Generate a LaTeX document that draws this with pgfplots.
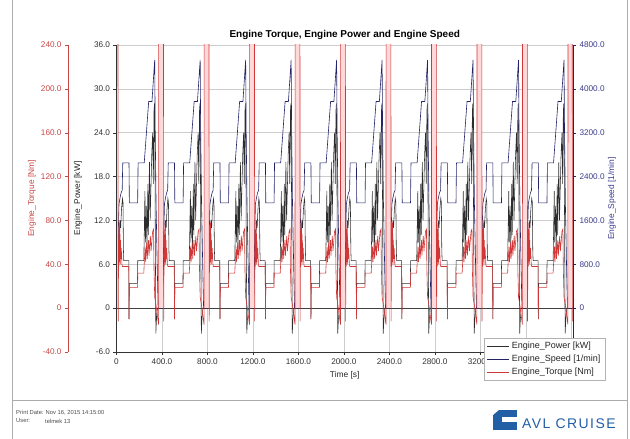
\documentclass[border=0pt]{standalone}
\usepackage{pgfplots}
\pgfplotsset{compat=1.18}
\usepackage{fontspec}
\setmainfont{Liberation Sans}
\definecolor{powc}{RGB}{45,45,45}
\definecolor{spdc}{RGB}{35,35,105}
\definecolor{spdlab}{RGB}{60,60,140}
\definecolor{trqc}{RGB}{210,55,55}
\definecolor{trqlab}{RGB}{200,70,70}
\definecolor{gridc}{RGB}{205,205,205}
\definecolor{avlblue}{RGB}{35,95,165}
\begin{document}
\begin{tikzpicture}
\useasboundingbox (0pt,0pt) rectangle (630pt,439pt);
\pgfplotsset{
  base/.style={
    at={(116.5pt,87pt)}, anchor=south west, scale only axis,
    width=456.5pt, height=307pt,
    xmin=0, xmax=4015,
    tick label style={font=\fontsize{8.2}{9}\selectfont},
    label style={font=\fontsize{8.4}{10}\selectfont},
    tick align=outside, major tick length=3pt,
  }
}
% ---------------- Power (main axis) ----------------
\begin{axis}[base,
  ymin=-6, ymax=36,
  axis x line*=bottom, axis y line*=left,
  xtick={0,400,...,4000},
  xticklabels={0,400.0,800.0,1200.0,1600.0,2000.0,2400.0,2800.0,3200.0,{},{}},
  ytick={-6,0,...,36},
  yticklabels={-6.0,0,6.0,12.0,18.0,24.0,30.0,36.0},
  grid=major, grid style={gridc, line width=0.5pt},
  extra y ticks={0}, extra y tick labels={},
  extra y tick style={grid style={black!75, line width=0.6pt}},
  axis line style={black!80, line width=0.6pt},
  tick style={black!80},
  tick label style={text=black!80},
  xlabel={Time [s]}, ylabel={Engine\_Power [kW]},
  xlabel style={text=black!85},
  ylabel style={text=black!85, at={(axis description cs:-0.0843,0.5)}, anchor=center},
  title={Engine Torque, Engine Power and Engine Speed},
  title style={font=\bfseries\fontsize{10}{12}\selectfont, at={(axis description cs:0.5,1)}, anchor=south, yshift=-4pt},
]
\addplot[powc, line width=0.55pt] coordinates {
(0,0) (5,0) (9,4) (13,7) (17,6) (21,10) (26,9) (31,12) (37,11) (44,13.5) (52,15) (57,14.5) (61,8) (64,6.5) (108,6.5) (110,-1.5) (113,3.4) (184,3.4) (187,6.5) (240,6.5) (244,10) (250,16) (254,9) (262,14) (268,8) (276,17) (280,10) (290,20) (296,12) (310,21) (318,24) (324,17) (330,27) (334,28) (338,20) (342,8) (346,-3.5) (352,-1.5) (360,0)
(405,0) (409,4) (413,7) (417,6) (421,10) (426,9) (431,12) (437,11) (444,13.5) (452,15) (457,14.5) (461,8) (464,6.5) (508,6.5) (510,-1.5) (513,3.4) (584,3.4) (587,6.5) (640,6.5) (644,10) (650,16) (654,9) (662,14) (668,8) (676,17) (680,10) (690,20) (696,12) (710,21) (718,24) (724,17) (730,27) (734,28) (738,20) (742,8) (746,-3.5) (752,-1.5) (760,0)
(805,0) (809,4) (813,7) (817,6) (821,10) (826,9) (831,12) (837,11) (844,13.5) (852,15) (857,14.5) (861,8) (864,6.5) (908,6.5) (910,-1.5) (913,3.4) (984,3.4) (987,6.5) (1040,6.5) (1044,10) (1050,16) (1054,9) (1062,14) (1068,8) (1076,17) (1080,10) (1090,20) (1096,12) (1110,21) (1118,24) (1124,17) (1130,27) (1134,28) (1138,20) (1142,8) (1146,-3.5) (1152,-1.5) (1160,0)
(1205,0) (1209,4) (1213,7) (1217,6) (1221,10) (1226,9) (1231,12) (1237,11) (1244,13.5) (1252,15) (1257,14.5) (1261,8) (1264,6.5) (1308,6.5) (1310,-1.5) (1313,3.4) (1384,3.4) (1387,6.5) (1440,6.5) (1444,10) (1450,16) (1454,9) (1462,14) (1468,8) (1476,17) (1480,10) (1490,20) (1496,12) (1510,21) (1518,24) (1524,17) (1530,27) (1534,28) (1538,20) (1542,8) (1546,-3.5) (1552,-1.5) (1560,0)
(1605,0) (1609,4) (1613,7) (1617,6) (1621,10) (1626,9) (1631,12) (1637,11) (1644,13.5) (1652,15) (1657,14.5) (1661,8) (1664,6.5) (1708,6.5) (1710,-1.5) (1713,3.4) (1784,3.4) (1787,6.5) (1840,6.5) (1844,10) (1850,16) (1854,9) (1862,14) (1868,8) (1876,17) (1880,10) (1890,20) (1896,12) (1910,21) (1918,24) (1924,17) (1930,27) (1934,28) (1938,20) (1942,8) (1946,-3.5) (1952,-1.5) (1960,0)
(2005,0) (2009,4) (2013,7) (2017,6) (2021,10) (2026,9) (2031,12) (2037,11) (2044,13.5) (2052,15) (2057,14.5) (2061,8) (2064,6.5) (2108,6.5) (2110,-1.5) (2113,3.4) (2184,3.4) (2187,6.5) (2240,6.5) (2244,10) (2250,16) (2254,9) (2262,14) (2268,8) (2276,17) (2280,10) (2290,20) (2296,12) (2310,21) (2318,24) (2324,17) (2330,27) (2334,28) (2338,20) (2342,8) (2346,-3.5) (2352,-1.5) (2360,0)
(2405,0) (2409,4) (2413,7) (2417,6) (2421,10) (2426,9) (2431,12) (2437,11) (2444,13.5) (2452,15) (2457,14.5) (2461,8) (2464,6.5) (2508,6.5) (2510,-1.5) (2513,3.4) (2584,3.4) (2587,6.5) (2640,6.5) (2644,10) (2650,16) (2654,9) (2662,14) (2668,8) (2676,17) (2680,10) (2690,20) (2696,12) (2710,21) (2718,24) (2724,17) (2730,27) (2734,28) (2738,20) (2742,8) (2746,-3.5) (2752,-1.5) (2760,0)
(2805,0) (2809,4) (2813,7) (2817,6) (2821,10) (2826,9) (2831,12) (2837,11) (2844,13.5) (2852,15) (2857,14.5) (2861,8) (2864,6.5) (2908,6.5) (2910,-1.5) (2913,3.4) (2984,3.4) (2987,6.5) (3040,6.5) (3044,10) (3050,16) (3054,9) (3062,14) (3068,8) (3076,17) (3080,10) (3090,20) (3096,12) (3110,21) (3118,24) (3124,17) (3130,27) (3134,28) (3138,20) (3142,8) (3146,-3.5) (3152,-1.5) (3160,0)
(3205,0) (3209,4) (3213,7) (3217,6) (3221,10) (3226,9) (3231,12) (3237,11) (3244,13.5) (3252,15) (3257,14.5) (3261,8) (3264,6.5) (3308,6.5) (3310,-1.5) (3313,3.4) (3384,3.4) (3387,6.5) (3440,6.5) (3444,10) (3450,16) (3454,9) (3462,14) (3468,8) (3476,17) (3480,10) (3490,20) (3496,12) (3510,21) (3518,24) (3524,17) (3530,27) (3534,28) (3538,20) (3542,8) (3546,-3.5) (3552,-1.5) (3560,0)
(3605,0) (3609,4) (3613,7) (3617,6) (3621,10) (3626,9) (3631,12) (3637,11) (3644,13.5) (3652,15) (3657,14.5) (3661,8) (3664,6.5) (3708,6.5) (3710,-1.5) (3713,3.4) (3784,3.4) (3787,6.5) (3840,6.5) (3844,10) (3850,16) (3854,9) (3862,14) (3868,8) (3876,17) (3880,10) (3890,20) (3896,12) (3910,21) (3918,24) (3924,17) (3930,27) (3934,28) (3938,20) (3942,8) (3946,-3.5) (3952,-1.5) (3960,0) (4015,0)
};
\end{axis}
% ---------------- Speed (right axis) ----------------
\begin{axis}[base,
  ymin=-800, ymax=4800,
  hide x axis, axis y line*=right,
  ytick={0,800,...,4800},
  yticklabels={0,800.0,1600.0,2400.0,3200.0,4000.0,4800.0},
  y axis line style={spdc, line width=0.6pt},
  ytick style={spdc},
  yticklabel style={text=spdlab},
  ylabel={Engine\_Speed [1/min]},
  ylabel style={text=spdlab, at={(axis description cs:1.0854,0.5)}, anchor=center},
]
\addplot[spdc, line width=0.6pt] coordinates {
(0,0) (5,0) (10,600) (16,1400) (22,1900) (30,2000) (40,2100) (50,2150) (55,2650) (110,2650) (113,1920) (186,1920) (190,2650) (244,2650) (283,3770) (312,3770) (336,4530) (340,3300) (348,1900) (358,800) (366,0)
(405,0) (410,600) (416,1400) (422,1900) (430,2000) (440,2100) (450,2150) (455,2650) (510,2650) (513,1920) (586,1920) (590,2650) (644,2650) (683,3770) (712,3770) (736,4530) (740,3300) (748,1900) (758,800) (766,0)
(805,0) (810,600) (816,1400) (822,1900) (830,2000) (840,2100) (850,2150) (855,2650) (910,2650) (913,1920) (986,1920) (990,2650) (1044,2650) (1083,3770) (1112,3770) (1136,4530) (1140,3300) (1148,1900) (1158,800) (1166,0)
(1205,0) (1210,600) (1216,1400) (1222,1900) (1230,2000) (1240,2100) (1250,2150) (1255,2650) (1310,2650) (1313,1920) (1386,1920) (1390,2650) (1444,2650) (1483,3770) (1512,3770) (1536,4530) (1540,3300) (1548,1900) (1558,800) (1566,0)
(1605,0) (1610,600) (1616,1400) (1622,1900) (1630,2000) (1640,2100) (1650,2150) (1655,2650) (1710,2650) (1713,1920) (1786,1920) (1790,2650) (1844,2650) (1883,3770) (1912,3770) (1936,4530) (1940,3300) (1948,1900) (1958,800) (1966,0)
(2005,0) (2010,600) (2016,1400) (2022,1900) (2030,2000) (2040,2100) (2050,2150) (2055,2650) (2110,2650) (2113,1920) (2186,1920) (2190,2650) (2244,2650) (2283,3770) (2312,3770) (2336,4530) (2340,3300) (2348,1900) (2358,800) (2366,0)
(2405,0) (2410,600) (2416,1400) (2422,1900) (2430,2000) (2440,2100) (2450,2150) (2455,2650) (2510,2650) (2513,1920) (2586,1920) (2590,2650) (2644,2650) (2683,3770) (2712,3770) (2736,4530) (2740,3300) (2748,1900) (2758,800) (2766,0)
(2805,0) (2810,600) (2816,1400) (2822,1900) (2830,2000) (2840,2100) (2850,2150) (2855,2650) (2910,2650) (2913,1920) (2986,1920) (2990,2650) (3044,2650) (3083,3770) (3112,3770) (3136,4530) (3140,3300) (3148,1900) (3158,800) (3166,0)
(3205,0) (3210,600) (3216,1400) (3222,1900) (3230,2000) (3240,2100) (3250,2150) (3255,2650) (3310,2650) (3313,1920) (3386,1920) (3390,2650) (3444,2650) (3483,3770) (3512,3770) (3536,4530) (3540,3300) (3548,1900) (3558,800) (3566,0)
(3605,0) (3610,600) (3616,1400) (3622,1900) (3630,2000) (3640,2100) (3650,2150) (3655,2650) (3710,2650) (3713,1920) (3786,1920) (3790,2650) (3844,2650) (3883,3770) (3912,3770) (3936,4530) (3940,3300) (3948,1900) (3958,800) (3966,0) (4015,0)
};
\end{axis}
% ---------------- Torque (data + legend) ----------------
\begin{axis}[base,
  ymin=-40, ymax=240,
  hide x axis, hide y axis,
  legend style={at={(0.805,0.0456)}, anchor=north west, font=\fontsize{9}{11}\selectfont,
    draw=gray!60, fill=white, inner xsep=3pt, inner ysep=2pt, row sep=1pt,
    text=black!85, cells={anchor=west}},
  legend cell align=left,
  legend image code/.code={\draw[#1] (0pt,0pt) -- (22pt,0pt);},
]
\addlegendimage{powc, line width=0.6pt}
\addlegendentry{Engine\_Power [kW]}
\addlegendimage{spdc, line width=0.6pt}
\addlegendentry{Engine\_Speed [1/min]}
\addplot[fill=red!15, draw=none, forget plot] coordinates {(0,0) (0,300) (13,300) (13,0)} -- cycle;
\addplot[fill=red!15, draw=none, forget plot] coordinates {(371,0) (371,300) (413,300) (413,0)} -- cycle;
\addplot[fill=red!15, draw=none, forget plot] coordinates {(771,0) (771,300) (813,300) (813,0)} -- cycle;
\addplot[fill=red!15, draw=none, forget plot] coordinates {(1171,0) (1171,300) (1213,300) (1213,0)} -- cycle;
\addplot[fill=red!15, draw=none, forget plot] coordinates {(1571,0) (1571,300) (1613,300) (1613,0)} -- cycle;
\addplot[fill=red!15, draw=none, forget plot] coordinates {(1971,0) (1971,300) (2013,300) (2013,0)} -- cycle;
\addplot[fill=red!15, draw=none, forget plot] coordinates {(2371,0) (2371,300) (2413,300) (2413,0)} -- cycle;
\addplot[fill=red!15, draw=none, forget plot] coordinates {(2771,0) (2771,300) (2813,300) (2813,0)} -- cycle;
\addplot[fill=red!15, draw=none, forget plot] coordinates {(3171,0) (3171,300) (3213,300) (3213,0)} -- cycle;
\addplot[fill=red!15, draw=none, forget plot] coordinates {(3571,0) (3571,300) (3613,300) (3613,0)} -- cycle;
\addplot[fill=red!15, draw=none, forget plot] coordinates {(3971,0) (3971,300) (4008,300) (4008,0)} -- cycle;
\addplot[trqc, line width=0.6pt] coordinates {
(0,300) (13,300) (15,-12) (17,25) (19,55) (21,38) (23,72) (25,42) (27,78) (29,48) (31,68) (33,40) (35,62) (38,45) (42,55) (48,40) (52,38) (108,38) (110,-10) (113,19) (185,19) (188,32) (240,32) (246,45) (252,56) (256,42) (266,60) (270,45) (282,62) (286,48) (298,66) (304,52) (318,70) (326,72) (330,35) (336,10) (346,4) (356,-4) (366,-12) (370,-15) (371,300) (413,300)
(415,-12) (417,25) (419,55) (421,38) (423,72) (425,42) (427,78) (429,48) (431,68) (433,40) (435,62) (438,45) (442,55) (448,40) (452,38) (508,38) (510,-10) (513,19) (585,19) (588,32) (640,32) (646,45) (652,56) (656,42) (666,60) (670,45) (682,62) (686,48) (698,66) (704,52) (718,70) (726,72) (730,35) (736,10) (746,4) (756,-4) (766,-12) (770,-15) (771,300) (813,300)
(815,-12) (817,25) (819,55) (821,38) (823,72) (825,42) (827,78) (829,48) (831,68) (833,40) (835,62) (838,45) (842,55) (848,40) (852,38) (908,38) (910,-10) (913,19) (985,19) (988,32) (1040,32) (1046,45) (1052,56) (1056,42) (1066,60) (1070,45) (1082,62) (1086,48) (1098,66) (1104,52) (1118,70) (1126,72) (1130,35) (1136,10) (1146,4) (1156,-4) (1166,-12) (1170,-15) (1171,300) (1213,300)
(1215,-12) (1217,25) (1219,55) (1221,38) (1223,72) (1225,42) (1227,78) (1229,48) (1231,68) (1233,40) (1235,62) (1238,45) (1242,55) (1248,40) (1252,38) (1308,38) (1310,-10) (1313,19) (1385,19) (1388,32) (1440,32) (1446,45) (1452,56) (1456,42) (1466,60) (1470,45) (1482,62) (1486,48) (1498,66) (1504,52) (1518,70) (1526,72) (1530,35) (1536,10) (1546,4) (1556,-4) (1566,-12) (1570,-15) (1571,300) (1613,300)
(1615,-12) (1617,25) (1619,55) (1621,38) (1623,72) (1625,42) (1627,78) (1629,48) (1631,68) (1633,40) (1635,62) (1638,45) (1642,55) (1648,40) (1652,38) (1708,38) (1710,-10) (1713,19) (1785,19) (1788,32) (1840,32) (1846,45) (1852,56) (1856,42) (1866,60) (1870,45) (1882,62) (1886,48) (1898,66) (1904,52) (1918,70) (1926,72) (1930,35) (1936,10) (1946,4) (1956,-4) (1966,-12) (1970,-15) (1971,300) (2013,300)
(2015,-12) (2017,25) (2019,55) (2021,38) (2023,72) (2025,42) (2027,78) (2029,48) (2031,68) (2033,40) (2035,62) (2038,45) (2042,55) (2048,40) (2052,38) (2108,38) (2110,-10) (2113,19) (2185,19) (2188,32) (2240,32) (2246,45) (2252,56) (2256,42) (2266,60) (2270,45) (2282,62) (2286,48) (2298,66) (2304,52) (2318,70) (2326,72) (2330,35) (2336,10) (2346,4) (2356,-4) (2366,-12) (2370,-15) (2371,300) (2413,300)
(2415,-12) (2417,25) (2419,55) (2421,38) (2423,72) (2425,42) (2427,78) (2429,48) (2431,68) (2433,40) (2435,62) (2438,45) (2442,55) (2448,40) (2452,38) (2508,38) (2510,-10) (2513,19) (2585,19) (2588,32) (2640,32) (2646,45) (2652,56) (2656,42) (2666,60) (2670,45) (2682,62) (2686,48) (2698,66) (2704,52) (2718,70) (2726,72) (2730,35) (2736,10) (2746,4) (2756,-4) (2766,-12) (2770,-15) (2771,300) (2813,300)
(2815,-12) (2817,25) (2819,55) (2821,38) (2823,72) (2825,42) (2827,78) (2829,48) (2831,68) (2833,40) (2835,62) (2838,45) (2842,55) (2848,40) (2852,38) (2908,38) (2910,-10) (2913,19) (2985,19) (2988,32) (3040,32) (3046,45) (3052,56) (3056,42) (3066,60) (3070,45) (3082,62) (3086,48) (3098,66) (3104,52) (3118,70) (3126,72) (3130,35) (3136,10) (3146,4) (3156,-4) (3166,-12) (3170,-15) (3171,300) (3213,300)
(3215,-12) (3217,25) (3219,55) (3221,38) (3223,72) (3225,42) (3227,78) (3229,48) (3231,68) (3233,40) (3235,62) (3238,45) (3242,55) (3248,40) (3252,38) (3308,38) (3310,-10) (3313,19) (3385,19) (3388,32) (3440,32) (3446,45) (3452,56) (3456,42) (3466,60) (3470,45) (3482,62) (3486,48) (3498,66) (3504,52) (3518,70) (3526,72) (3530,35) (3536,10) (3546,4) (3556,-4) (3566,-12) (3570,-15) (3571,300) (3613,300)
(3615,-12) (3617,25) (3619,55) (3621,38) (3623,72) (3625,42) (3627,78) (3629,48) (3631,68) (3633,40) (3635,62) (3638,45) (3642,55) (3648,40) (3652,38) (3708,38) (3710,-10) (3713,19) (3785,19) (3788,32) (3840,32) (3846,45) (3852,56) (3856,42) (3866,60) (3870,45) (3882,62) (3886,48) (3898,66) (3904,52) (3918,70) (3926,72) (3930,35) (3936,10) (3946,4) (3956,-4) (3966,-12) (3970,-15) (3971,300) (4008,300) (4010,-12)
};
\addlegendentry{Engine\_Torque [Nm]}
\end{axis}
% ---------------- Torque scale (left outer axis) ----------------
\begin{axis}[at={(68pt,87pt)}, anchor=south west, scale only axis,
  width=1pt, height=307pt, xmin=0, xmax=1, ymin=-40, ymax=240,
  hide x axis, axis y line*=left,
  tick align=outside, major tick length=3pt,
  ytick={-40,0,...,240},
  yticklabels={-40.0,0,40.0,80.0,120.0,160.0,200.0,240.0},
  y axis line style={trqlab, line width=0.6pt},
  ytick style={trqlab},
  yticklabel style={text=trqlab, font=\fontsize{8.2}{9}\selectfont},
  ylabel={Engine\_Torque [Nm]},
  ylabel style={text=trqlab, font=\fontsize{8.4}{10}\selectfont, at={(axis description cs:-36,0.5)}, anchor=center},
]
\addplot[draw=none] coordinates {(0,0)};
\end{axis}
% ---------------- Page frame and footer ----------------
\draw[gray!65, line width=0.8pt] (12pt,0pt) -- (12pt,439pt);
\draw[gray!65, line width=0.8pt] (627pt,0pt) -- (627pt,439pt);
\draw[gray!65, line width=0.8pt] (12pt,39pt) -- (627pt,39pt);
\node[anchor=west, inner sep=0pt, font=\fontsize{5.8}{7}\selectfont, text=black!70] at (16pt,26pt) {Print Date: Nov 16, 2015 14:15:00};
\node[anchor=west, inner sep=0pt, font=\fontsize{5.8}{7}\selectfont, text=black!70] at (16pt,18pt) {User:};
\node[anchor=west, inner sep=0pt, font=\fontsize{5.8}{7}\selectfont, text=black!70] at (45pt,18pt) {telmek 13};
\fill[avlblue] (493pt,9pt) rectangle (517pt,29pt);
\fill[white] (502pt,16.5pt) rectangle (517.5pt,21.5pt);
\fill[white] (493pt,29.2pt) -- (499pt,29.2pt) -- (493pt,24pt) -- cycle;
\node[anchor=west, inner sep=0pt, text=avlblue, font={\fontsize{14}{14}\selectfont\addfontfeatures{LetterSpace=10}}] at (522pt,15pt) {AVL CRUISE};
\end{tikzpicture}
\end{document}
